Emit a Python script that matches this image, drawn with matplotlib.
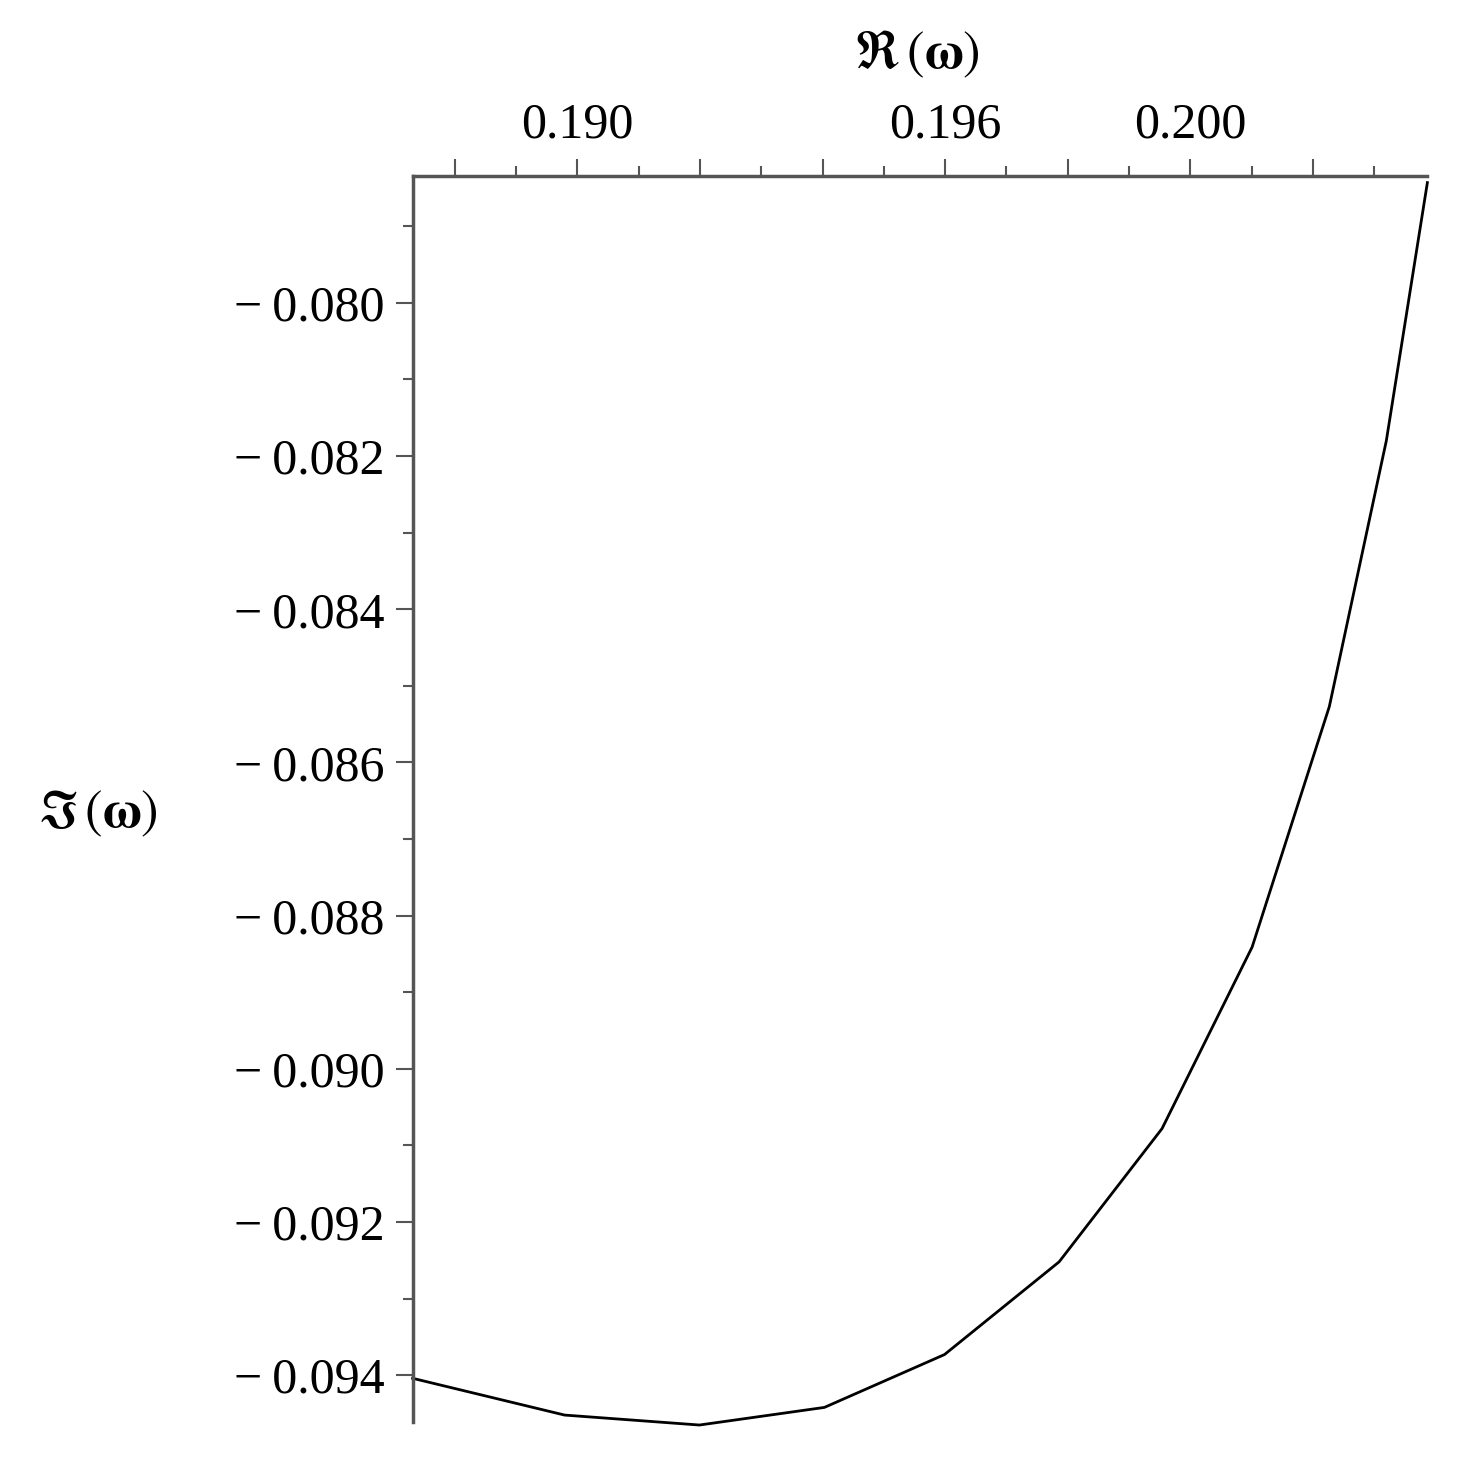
import matplotlib
matplotlib.use("Agg")
import matplotlib.pyplot as plt
from matplotlib.ticker import MultipleLocator, FixedLocator

re_w = [0.18731, 0.18979, 0.19199, 0.19403, 0.19599, 0.19786, 0.19954, 0.20101, 0.20227, 0.20320, 0.20387]
im_w = [-0.09404, -0.09452, -0.09465, -0.09442, -0.09373, -0.09252, -0.09078, -0.08841, -0.08527, -0.08180, -0.07843]
x_labels = {0.190: "0.190", 0.196: "0.196", 0.200: "0.200"}
y_ticks = [-0.080, -0.082, -0.084, -0.086, -0.088, -0.090, -0.092, -0.094]

plt.rcParams['font.family'] = ['Liberation Serif', 'DejaVu Serif']
plt.rcParams['mathtext.fontset'] = 'stix'
fig = plt.figure(figsize=(14.58, 14.67), dpi=100)
ax = fig.add_axes([0.283, 0.0307, 0.696, 0.849])
ax.plot(re_w, im_w, color="black", lw=2, clip_on=False)
ax.set_xlim(0.18731, 0.20387)
ax.set_ylim(-0.09461, -0.07835)

for s in ["right", "bottom"]:
    ax.spines[s].set_visible(False)
for s in ["left", "top"]:
    ax.spines[s].set_color("#555555")
    ax.spines[s].set_linewidth(2.5)

ax.xaxis.tick_top()
majors = [0.188 + 0.002 * i for i in range(8)]
ax.xaxis.set_major_locator(FixedLocator(majors))
ax.set_xticklabels([x_labels.get(round(m, 3), "") for m in majors], fontsize=36)
ax.xaxis.set_minor_locator(MultipleLocator(0.001))
ax.set_yticks(y_ticks)
ax.set_yticklabels(["\u2212\u2009" + f"{abs(v):.3f}" for v in y_ticks], fontsize=36)
ax.yaxis.set_minor_locator(MultipleLocator(0.001))
ax.tick_params(which="major", length=12, width=1.5, color="#555555", pad=8)
ax.tick_params(which="minor", length=7, width=1.5, color="#555555")

fig.text(0.629, 0.963, r"$\Re\,(\mathbf{\omega})$", fontsize=38, ha="center", va="center")
fig.text(0.067, 0.445, r"$\Im\,(\mathbf{\omega})$", fontsize=38, ha="center", va="center")

fig.savefig("out.png", dpi=100, facecolor="white")
